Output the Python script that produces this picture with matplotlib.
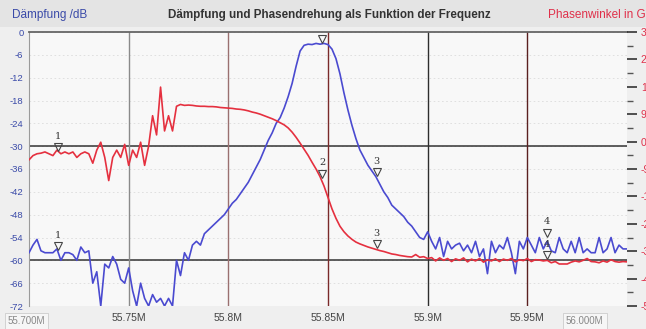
import numpy as np
import matplotlib.pyplot as plt
from matplotlib.transforms import offset_copy

plt.rcParams['font.family'] = ['Liberation Sans', 'DejaVu Sans']

# sample frequencies of the analyser sweep (MHz)
freq = np.linspace(55.70, 56.00, 151)

# Dämpfung in dB
daempfung = [
    -58, -56, -54.5, -57.5, -58, -58, -58, -57, -60, -58,
    -58, -58.5, -60, -56.5, -58, -57.5, -66, -63, -72, -61,
    -62, -59, -61, -65, -66, -62, -68, -72, -66, -70,
    -72, -69, -71, -70, -72, -70, -72, -60, -64, -58,
    -60, -56, -55, -56, -53, -52, -51, -50, -49, -48,
    -46.5, -45, -44, -42.5, -41, -39.5, -37.5, -35.5, -33.5, -31,
    -28.5, -26.5, -24, -22.5, -20, -17, -13.5, -9, -5, -3.5,
    -3.2, -3.3, -3.0, -3.2, -3.0, -3.3, -4.5, -7, -11, -16,
    -20.5, -24.5, -28, -31, -33, -35, -36.5, -38, -40, -42,
    -43.5, -45.5, -46.5, -47.5, -48.5, -50, -51, -52.5, -54, -54.5,
    -52.5, -55, -57, -54, -59, -55, -57, -56, -55.5, -57.5,
    -56, -58, -55, -59, -57, -63.5, -55, -58, -56, -57,
    -54, -58, -63.5, -55, -57, -54, -56, -58, -54, -57,
    -55, -57.5, -58, -54, -57, -58, -55, -58, -54, -58,
    -57, -58, -58, -54, -58, -57, -54, -58, -56, -57,
    -57,
]

# Phasenwinkel in Grad
phase = [
    -60, -46, -40, -38, -34, -40, -46, -28, -40, -34,
    -40, -34, -52, -40, -34, -40, -71, -28, -2, -52,
    -128, -52, -28, -52, -9, -78, -28, -52, -2, -78,
    -15, 85, 22, 179, 35, 85, 35, 116, 122, 119,
    120, 119, 117, 116, 116, 115, 115, 114, 112, 111,
    110, 109, 107, 106, 104, 101, 97, 94, 90, 85,
    80, 75, 69, 62, 55, 45, 31, 14, -5, -25,
    -45, -68, -90, -115, -146, -184, -221, -252, -278, -296,
    -310, -321, -330, -336, -341, -346, -350, -354, -358, -361,
    -365, -369, -371, -374, -376, -378, -379, -371, -380, -378,
    -384, -381, -392, -382, -390, -384, -394, -385, -390, -382,
    -395, -386, -392, -384, -396, -388, -392, -385, -394, -386,
    -390, -384, -395, -388, -391, -384, -394, -388, -389, -392,
    -390, -398, -394, -402, -402, -402, -396, -392, -395, -390,
    -384, -394, -395, -398, -392, -396, -388, -394, -396, -394,
    -395,
]

# markers
blue_mark_f = [55.7145, 55.847, 55.8745, 55.960]
blue_mark_v = [-57.5, -3.0, -38.0, -54.0]
blue_mark_lbl = ['1', '', '3', '4']
red_mark_f = [55.7145, 55.847, 55.8745, 55.960]
red_mark_v = [-34, -121, -352, -388]
red_mark_lbl = ['1', '2', '3', '4']

db_ticks = list(range(0, -73, -6))
deg_ticks = list(range(360, -541, -90))
f_ticks = [55.75, 55.80, 55.85, 55.90, 55.95]
f_labels = ['55.75M', '55.8M', '55.85M', '55.9M', '55.95M']

fig = plt.figure(figsize=(6.46, 3.29), dpi=100, facecolor='#efefef')
ax = fig.add_axes([29 / 646, 23 / 329, 598 / 646, 274 / 329])
ax.set_facecolor('#f8f8f8')
ax2 = ax.twinx()

# header band
fig.patches.append(plt.Rectangle((0, 1 - 27 / 329), 1, 27 / 329, transform=fig.transFigure,
                                 facecolor='#e4e4e4', edgecolor='none', zorder=0))

ax.set_xlim(55.70, 56.00)
ax.set_ylim(-72, 0)
ax2.set_ylim(-540, 360)

# faint grid
for v in db_ticks:
    ax.axhline(v, color='#dcdcdc', lw=0.6, ls=(0, (2, 3)), zorder=1)
ax.axhline(-30, color='#333333', lw=1.1, zorder=2)
ax.axhline(-60, color='#333333', lw=1.1, zorder=2)
vcols = ['#8a8a8a', '#9a7070', '#7a2a2a', '#2e2e2e', '#5a2020']
for f, c in zip(f_ticks, vcols):
    ax.axvline(f, color=c, lw=1.0, zorder=2)

ax.plot(freq, daempfung, color='#4a4ad0', lw=1.2, zorder=4)
ax2.plot(freq, phase, color='#e5303f', lw=1.2, zorder=4)

def add_markers(axis, fs, vs, lbls):
    tr_m = offset_copy(axis.transData, fig=fig, x=0, y=3.5, units='points')
    tr_t = offset_copy(axis.transData, fig=fig, x=0, y=8, units='points')
    for f, v, l in zip(fs, vs, lbls):
        axis.plot([f], [v], marker='v', ms=5.5, mfc='none', mec='#444444', mew=0.8,
                  transform=tr_m, zorder=6, clip_on=False)
        if l:
            axis.text(f, v, l, transform=tr_t, ha='center', va='bottom',
                      fontsize=7, color='#333333', family='DejaVu Serif', zorder=6)

add_markers(ax, blue_mark_f, blue_mark_v, blue_mark_lbl)
add_markers(ax2, red_mark_f, red_mark_v, red_mark_lbl)

# axes styling
for s in ['right', 'bottom']:
    ax.spines[s].set_visible(False)
    ax2.spines[s].set_visible(False)
ax2.spines['left'].set_visible(False)
ax2.spines['top'].set_visible(False)
ax.spines['left'].set_color('#9a9a9a')
ax.spines['top'].set_color('#666666')
ax.spines['top'].set_linewidth(1.3)

ax.set_yticks(db_ticks)
ax.set_yticklabels([str(v) for v in db_ticks])
ax.tick_params(axis='y', length=0, pad=4, labelsize=6.8, labelcolor='#3a4aa8')
ax.set_xticks(f_ticks)
ax.set_xticklabels(f_labels)
ax.tick_params(axis='x', length=0, pad=5, labelsize=7.5, labelcolor='#444444')

# right axis: labels run off the right edge, as in the original screenshot
ax2.set_yticks(deg_ticks)
ax2.set_yticklabels([str(v) for v in deg_ticks])
ax2.set_yticks(list(range(315, -541, -90)), minor=True)
ax2.tick_params(axis='y', which='major', direction='out', length=7, width=1.2,
                color='#333333', pad=3, labelsize=7.5, labelcolor='#e0304a')
ax2.tick_params(axis='y', which='minor', direction='out', length=4, width=1.0,
                color='#555555')

# header texts
fig.text(12 / 646, 1 - 15 / 329, 'Dämpfung /dB', color='#3a4aa8', fontsize=8.5, va='center')
fig.text(329 / 646, 1 - 15 / 329, 'Dämpfung und Phasendrehung als Funktion der Frequenz',
         color='#333333', fontsize=8.4, fontweight='bold', ha='center', va='center')
fig.text(548 / 646, 1 - 15 / 329, 'Phasenwinkel in Grad', color='#e0304a', fontsize=8.5, va='center')

# corner frequency boxes
fig.text(8 / 646, 1 - 321 / 329, '55.700M', color='#888888', fontsize=7, va='center',
         bbox=dict(boxstyle='square,pad=0.3', fc='#f6f6f6', ec='#cccccc', lw=0.6))
fig.text(566 / 646, 1 - 321 / 329, '56.000M', color='#888888', fontsize=7, va='center',
         bbox=dict(boxstyle='square,pad=0.3', fc='#f6f6f6', ec='#cccccc', lw=0.6))

fig.savefig('out.png', dpi=100, facecolor=fig.get_facecolor())
